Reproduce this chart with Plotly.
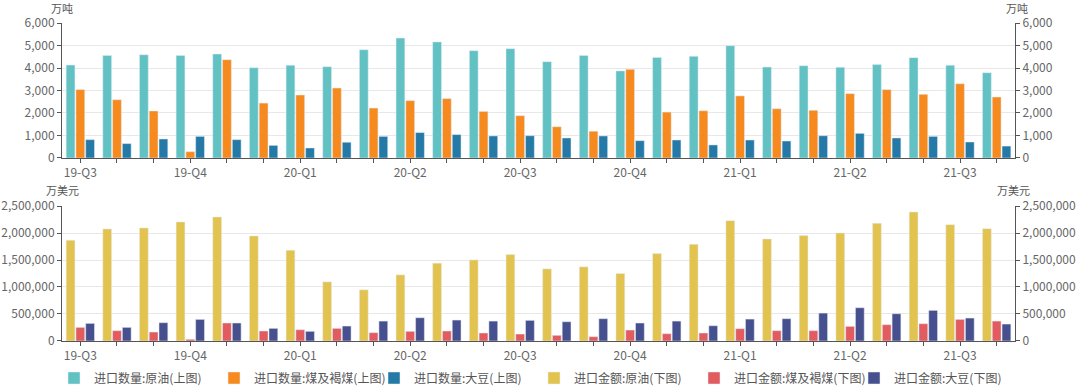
import plotly.graph_objects as go

months = ["2019-07", "2019-08", "2019-09", "2019-10", "2019-11", "2019-12",
          "2020-01", "2020-02", "2020-03", "2020-04", "2020-05", "2020-06",
          "2020-07", "2020-08", "2020-09", "2020-10", "2020-11", "2020-12",
          "2021-01", "2021-02", "2021-03", "2021-04", "2021-05", "2021-06",
          "2021-07", "2021-08"]
quarter_labels = ["19-Q3", "19-Q4", "20-Q1", "20-Q2", "20-Q3", "20-Q4", "21-Q1", "21-Q2", "21-Q3"]

qty_crude = [4130, 4560, 4590, 4560, 4620, 4010, 4120, 4060, 4810, 5330, 5160, 4770, 4860,
             4280, 4560, 3870, 4470, 4520, 4990, 4040, 4100, 4030, 4150, 4460, 4120, 3790]
qty_coal = [3040, 2590, 2090, 280, 4370, 2440, 2800, 3110, 2220, 2550, 2640, 2070, 1880,
            1390, 1190, 3940, 2040, 2100, 2760, 2190, 2120, 2860, 3040, 2830, 3300, 2710]
qty_soy = [815, 640, 845, 960, 815, 560, 445, 700, 960, 1130, 1040, 980, 990,
           890, 980, 770, 800, 580, 800, 755, 990, 1095, 890, 960, 710, 530]

val_crude = [1866000, 2075000, 2094000, 2204000, 2297000, 1946000, 1681000, 1096000, 948000,
             1225000, 1441000, 1502000, 1601000, 1336000, 1373000, 1250000, 1619000, 1792000,
             2229000, 1890000, 1952000, 2001000, 2180000, 2389000, 2155000, 2081000]
val_coal = [252000, 191000, 166000, 31000, 333000, 185000, 209000, 234000, 154000,
            179000, 185000, 148000, 129000, 105000, 80000, 203000, 135000, 148000,
            228000, 191000, 191000, 271000, 302000, 320000, 400000, 369000]
val_soy = [326000, 252000, 339000, 400000, 333000, 234000, 179000, 277000, 369000,
           431000, 388000, 369000, 382000, 357000, 413000, 333000, 369000, 283000,
           406000, 413000, 517000, 616000, 505000, 567000, 425000, 314000]

names = ["进口数量:原油(上图)", "进口数量:煤及褐煤(上图)", "进口数量:大豆(上图)",
         "进口金额:原油(下图)", "进口金额:煤及褐煤(下图)", "进口金额:大豆(下图)"]
colors = ["#62C1C3", "#F68A1E", "#2479A7", "#E3C34F", "#E15B5F", "#47508F"]

idx = list(range(len(months)))
tick_text = [quarter_labels[i // 3] if i % 3 == 0 else "" for i in idx]

fig = go.Figure()
top = [qty_crude, qty_coal, qty_soy]
bot = [val_crude, val_coal, val_soy]
for k in range(3):
    fig.add_trace(go.Bar(x=idx, y=top[k], name=names[k], marker_color=colors[k],
                         xaxis="x", yaxis="y", customdata=months, legend="legend"))
for k in range(3):
    fig.add_trace(go.Bar(x=idx, y=bot[k], name=names[k + 3], marker_color=colors[k + 3],
                         xaxis="x2", yaxis="y2", customdata=months, legend="legend2"))
# anchors so the mirrored right-hand axes are drawn
fig.add_trace(go.Scatter(x=[0], y=[0], xaxis="x", yaxis="y3", mode="markers",
                         marker=dict(opacity=0), showlegend=False, hoverinfo="skip"))
fig.add_trace(go.Scatter(x=[0], y=[0], xaxis="x2", yaxis="y4", mode="markers",
                         marker=dict(opacity=0), showlegend=False, hoverinfo="skip"))

font_family = "Noto Sans CJK SC, Noto Sans, sans-serif"
tick_font = dict(size=12, color="#666666", family=font_family)
axis_line = "#555555"
grid = "#E8E8E8"

xcommon = dict(range=[-0.5, len(months) - 0.5], tickmode="array", tickvals=idx,
               ticktext=tick_text, ticks="outside", ticklen=4, tickcolor=axis_line,
               showline=True, linecolor=axis_line, linewidth=1, showgrid=False,
               zeroline=False, tickfont=tick_font, automargin=False)
top_ticks = [0, 1000, 2000, 3000, 4000, 5000, 6000]
bot_ticks = [0, 500000, 1000000, 1500000, 2000000, 2500000]
ycommon = dict(ticks="outside", ticklen=4, tickcolor=axis_line, showline=True,
               linecolor=axis_line, linewidth=1, zeroline=False, tickfont=tick_font,
               tickformat=",d", tickmode="array", automargin=False)

legend_style = dict(orientation="h", xref="container", xanchor="left",
                    yref="container", y=1 - 378 / 389, yanchor="middle",
                    font=dict(size=12, color="#555555", family=font_family),
                    itemwidth=30, entrywidthmode="pixels", entrywidth=115,
                    tracegroupgap=0, bgcolor="rgba(0,0,0,0)")

fig.update_layout(
    width=1080, height=389,
    margin=dict(l=62, r=65, t=23, b=48),
    paper_bgcolor="white", plot_bgcolor="white",
    font=dict(family=font_family, color="#666666"),
    barmode="group", bargap=0.2, bargroupgap=0.1,
    xaxis=dict(domain=[0, 1], anchor="y", **xcommon),
    xaxis2=dict(domain=[0, 1], anchor="y2", **xcommon),
    yaxis=dict(domain=[0.5755, 1], anchor="x", range=[0, 6000], tickvals=top_ticks,
               showgrid=True, gridcolor=grid, **ycommon),
    yaxis3=dict(overlaying="y", side="right", anchor="x", range=[0, 6000],
                tickvals=top_ticks, showgrid=False, **ycommon),
    yaxis2=dict(domain=[0, 0.4245], anchor="x2", range=[0, 2500000], tickvals=bot_ticks,
                showgrid=True, gridcolor=grid, **ycommon),
    yaxis4=dict(overlaying="y2", side="right", anchor="x2", range=[0, 2500000],
                tickvals=bot_ticks, showgrid=False, **ycommon),
    legend=dict(x=54 / 1080, **legend_style),
    legend2=dict(x=534 / 1080, **legend_style),
    showlegend=True,
)

annots = [
    dict(text="万吨", x=62, y=8, xanchor="center"),
    dict(text="万吨", x=1017, y=8, xanchor="center"),
    dict(text="万美元", x=62, y=190, xanchor="center"),
    dict(text="万美元", x=1013, y=190, xanchor="center"),
]
for a in annots:
    fig.add_annotation(text=a["text"], xref="paper", yref="paper",
                       x=(a["x"] - 62) / (1080 - 62 - 65),
                       y=(341 - a["y"]) / (341 - 23),
                       xanchor=a["xanchor"], yanchor="middle", showarrow=False,
                       font=dict(size=11, color="#555555", family=font_family))

fig.write_html("out.html", config={"displayModeBar": False},
               post_script="document.body.style.margin='0';document.body.style.padding='0';")
